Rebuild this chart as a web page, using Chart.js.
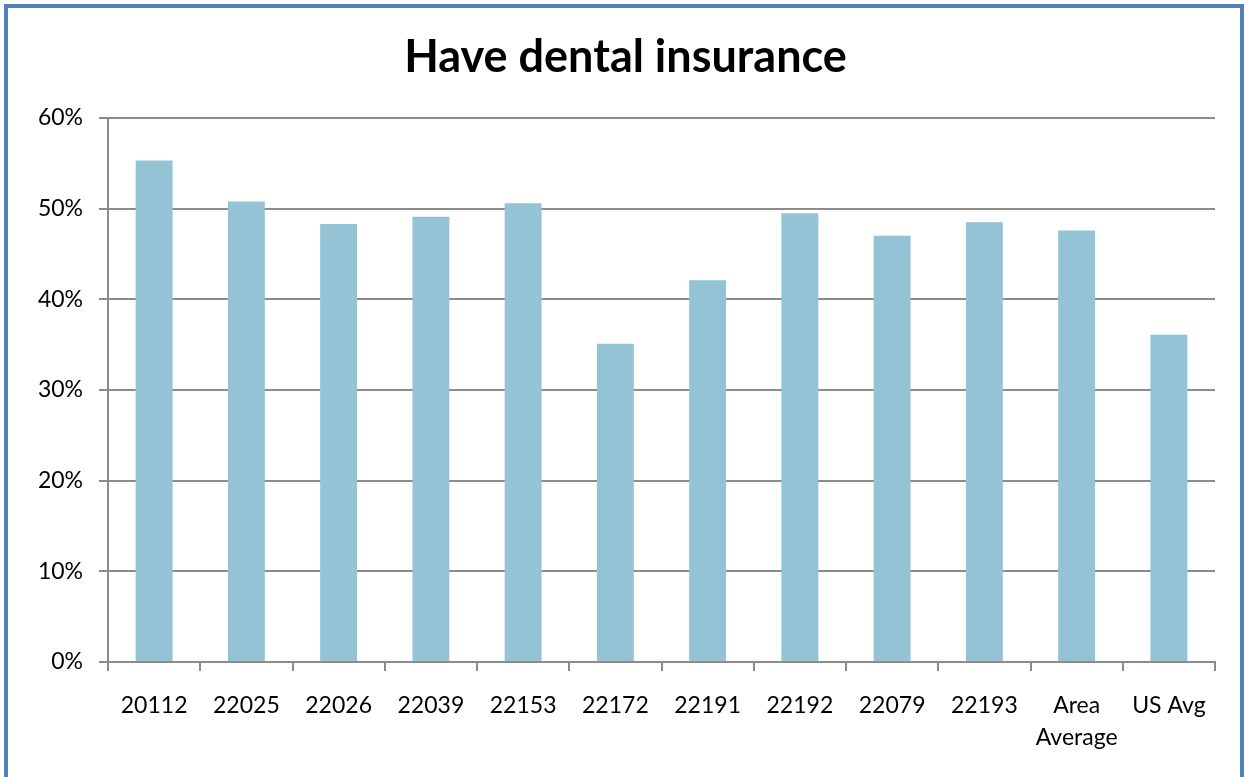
<!DOCTYPE html>
<html>
<head>
<meta charset="utf-8">
<script src="https://cdn.jsdelivr.net/npm/chart.js@4.4.0/dist/chart.umd.min.js"></script>
<style>
  html, body { margin: 0; padding: 0; background: #fff; overflow: hidden; }
  #frame {
    position: absolute; left: 4px; top: 4px; width: 1240px; height: 820px;
    border: 4px solid #4F81BD; box-sizing: border-box;
  }
  #myChart { position: absolute; left: 0; top: 0; }
</style>
</head>
<body>
<div id="frame"></div>
<canvas id="myChart" width="1244" height="777"></canvas>
<script>
// zip codes plus the two averages
const labels = [
  "20112", "22025", "22026", "22039", "22153", "22172",
  "22191", "22192", "22079", "22193", ["Area", "Average"], "US Avg",
];
// share of residents with dental insurance, percent
const values = [55.3, 50.8, 48.3, 49.1, 50.6, 35.1, 42.1, 49.5, 47.0, 48.5, 47.6, 36.1];
const yTicks = [0, 10, 20, 30, 40, 50, 60];

const gridColor = "#8C8C8C";
const font = "Lato, 'Open Sans', sans-serif";

const ctx = document.getElementById("myChart");
const data = {
  labels: labels,
  datasets: [
    {
      label: "Have dental insurance",
      data: values,
      backgroundColor: "#93C3D5",
      categoryPercentage: 1,
      barPercentage: 0.4,
    },
  ],
};
const config = {
  type: "bar",
  data: data,
  options: {
    responsive: false,
    animation: false,
    layout: { padding: { left: 36, right: 29, top: 0, bottom: 0 } },
    plugins: {
      legend: { display: false },
      tooltip: { enabled: false },
      title: {
        display: true,
        text: "Have dental insurance",
        color: "#000",
        font: { family: font, size: 45, weight: "bold", lineHeight: 1.2 },
        padding: { top: 30, bottom: 34 },
      },
    },
    scales: {
      x: {
        grid: {
          offset: true,
          drawOnChartArea: false,
          drawTicks: true,
          tickLength: 9,
          color: gridColor,
          lineWidth: 2,
        },
        border: { color: gridColor, width: 2 },
        ticks: {
          color: "#000",
          font: { family: font, size: 23, lineHeight: 1.4 },
          padding: 18,
          maxRotation: 0,
          autoSkip: false,
        },
        afterFit: (scale) => { scale.height = 115; },
      },
      y: {
        min: 0,
        max: 60,
        afterBuildTicks: (scale) => {
          scale.ticks = yTicks.map((v) => ({ value: v }));
        },
        grid: { color: gridColor, lineWidth: 2, tickLength: 9 },
        border: { color: gridColor, width: 2 },
        ticks: {
          color: "#000",
          font: { family: font, size: 23 },
          padding: 16,
          callback: (v) => v + "%",
        },
        afterFit: (scale) => { scale.width = 72; },
      },
    },
  },
};
const myChart = new Chart(ctx, config);
</script>
</body>
</html>
